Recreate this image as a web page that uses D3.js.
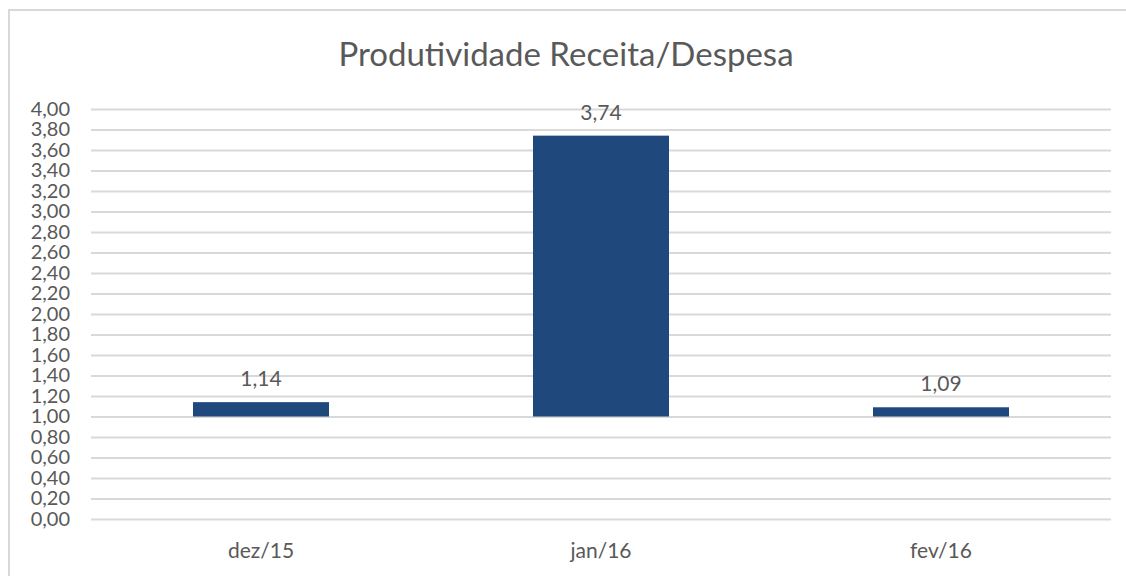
<!DOCTYPE html>
<html>
<head>
<meta charset="utf-8">
<script src="https://cdn.jsdelivr.net/npm/d3@7"></script>
<style>
  body { margin: 0; background: #fff; }
  text { font-family: Lato, "Open Sans", sans-serif; fill: #595959; }
</style>
</head>
<body>
<svg id="chart" width="1126" height="576"></svg>
<script>
// data
var categories = ["dez/15", "jan/16", "fev/16"]
var values = [1.14, 3.74, 1.09]
var yTicks = [0, 0.2, 0.4, 0.6, 0.8, 1.0, 1.2, 1.4, 1.6, 1.8, 2.0, 2.2, 2.4, 2.6, 2.8, 3.0, 3.2, 3.4, 3.6, 3.8, 4.0]
var baseValue = 1.0 // the horizontal axis crosses at 1,00

var width = 1126,
    height = 576
var plot = {left: 91, right: 1111, top: 109, bottom: 519}

var svg = d3.select("#chart")

// chart border (only top and left show inside the window)
svg.append("rect")
    .attr("x", 9)
    .attr("y", 10)
    .attr("width", 1130)
    .attr("height", 580)
    .attr("fill", "none")
    .attr("stroke", "#d9d9d9")
    .attr("stroke-width", 2)

var x = d3.scaleBand()
    .domain(categories)
    .range([plot.left, plot.right])
    .paddingInner(0.6)
    .paddingOuter(0.3)

var y = d3.scaleLinear()
    .domain([0, 4])
    .range([plot.bottom, plot.top])

var fmt = function(v) { return d3.format(".2f")(v).replace(".", ",") }

// gridlines + y labels
var yAxis = d3.axisLeft(y)
    .tickValues(yTicks)
    .tickSize(-(plot.right - plot.left))
    .tickPadding(21)
    .tickFormat(fmt)

var gy = svg.append("g")
    .attr("transform", "translate(" + plot.left + ",0)")
    .call(yAxis)
gy.select(".domain").remove()
gy.selectAll(".tick line")
    .attr("stroke", "#d9d9d9")
    .attr("stroke-width", 2)
gy.selectAll(".tick text")
    .style("font-size", "20px")
    .attr("fill", "#595959")

// bars, drawn from the 1,00 crossing
svg.selectAll(".bar")
    .data(values)
    .join("rect")
    .attr("class", "bar")
    .attr("x", function(d, i) { return x(categories[i]) })
    .attr("width", x.bandwidth())
    .attr("y", function(d) { return y(Math.max(d, baseValue)) })
    .attr("height", function(d) { return Math.abs(y(baseValue) - y(d)) })
    .attr("fill", "#1f497d")

// data labels
svg.selectAll(".lbl")
    .data(values)
    .join("text")
    .attr("class", "lbl")
    .attr("x", function(d, i) { return x(categories[i]) + x.bandwidth() / 2 })
    .attr("y", function(d) { return y(d) - 16 })
    .attr("text-anchor", "middle")
    .style("font-size", "21px")
    .text(fmt)

// category labels
svg.selectAll(".cat")
    .data(categories)
    .join("text")
    .attr("class", "cat")
    .attr("x", function(d) { return x(d) + x.bandwidth() / 2 })
    .attr("y", 558)
    .attr("text-anchor", "middle")
    .style("font-size", "21px")
    .text(function(d) { return d })

// title
svg.append("text")
    .attr("x", 566)
    .attr("y", 66)
    .attr("text-anchor", "middle")
    .style("font-size", "33px")
    .text("Produtividade Receita/Despesa")
</script>
</body>
</html>
